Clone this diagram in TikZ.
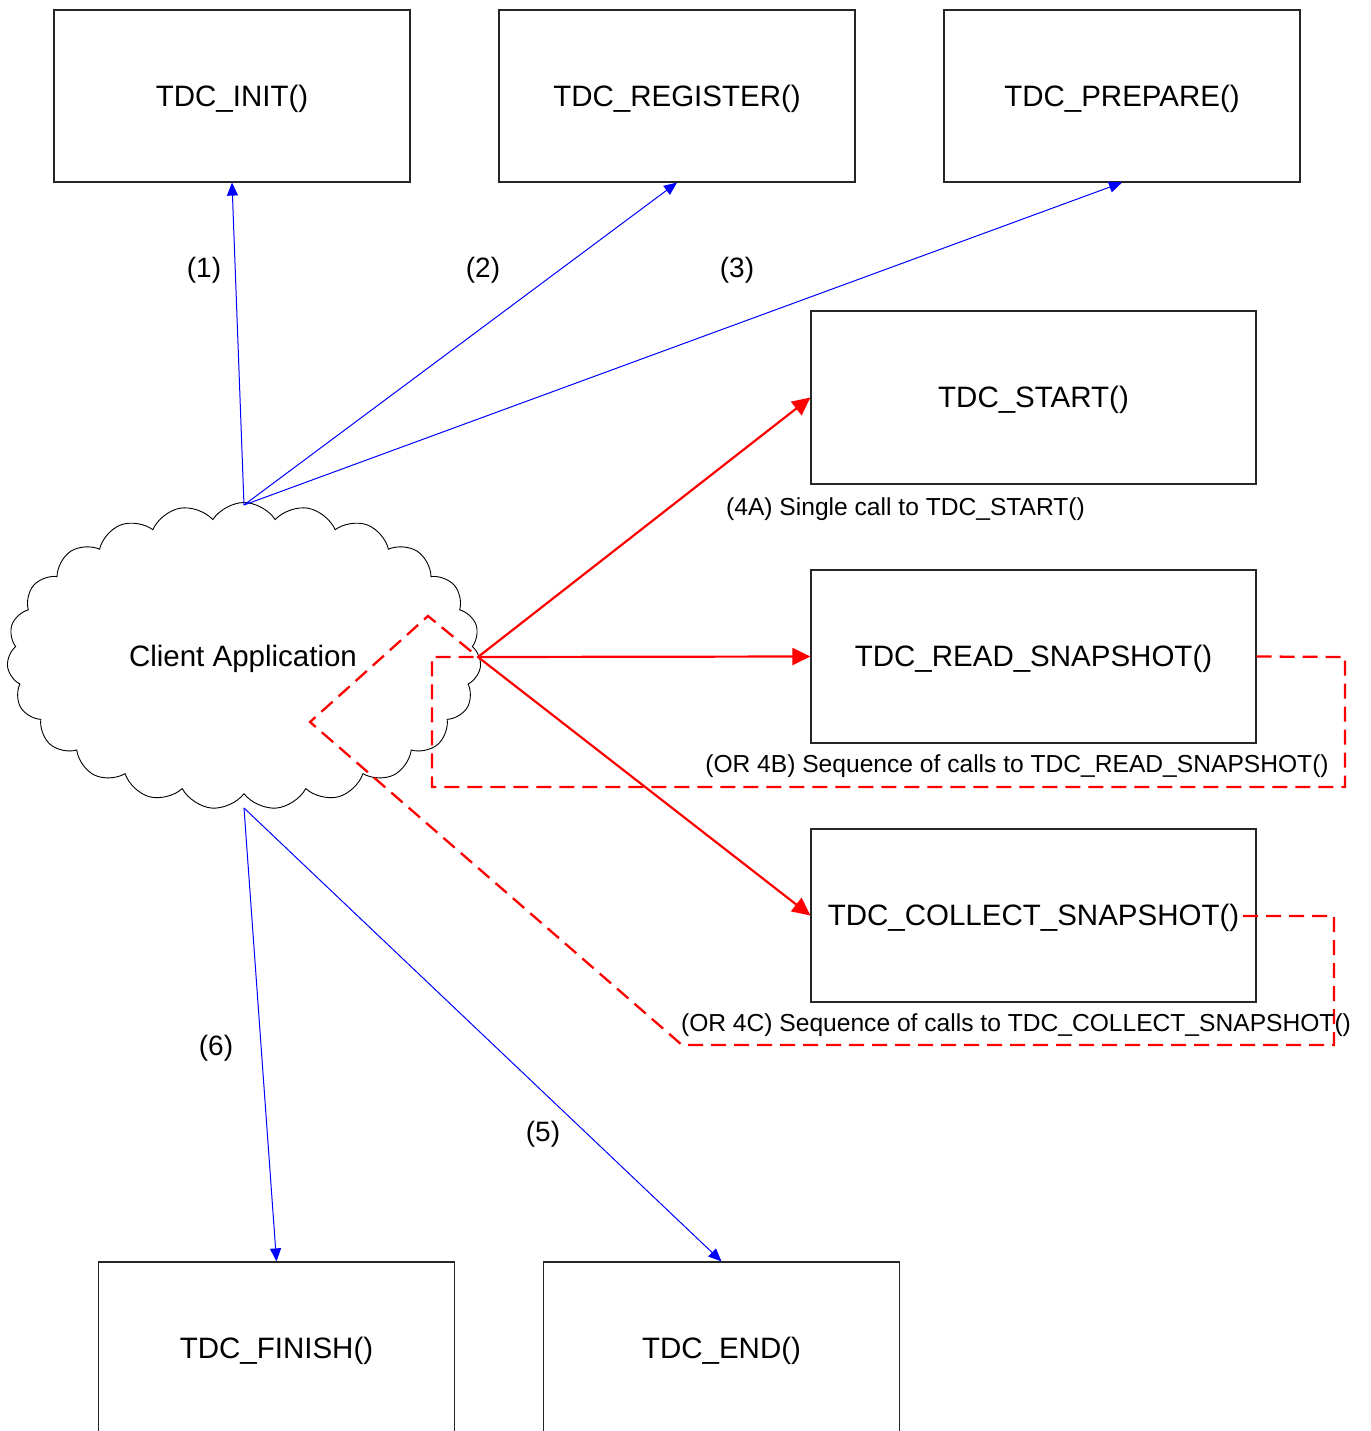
\documentclass[tikz,border=0pt]{standalone}
\usepackage{fontspec}
\setmainfont{Liberation Sans}
\usetikzlibrary{arrows.meta,shapes.symbols}
\tikzset{
  fnbox/.style={draw=black!85, line width=1.2pt, minimum width=356pt, minimum height=172pt, inner sep=0pt, font=\fontsize{29.5}{34}\selectfont, text depth=0pt, text height=0pt},
  widebox/.style={fnbox, minimum width=445pt, minimum height=173pt},
  bluearrow/.style={draw=blue, line width=1pt, -{Triangle[length=13pt,width=11pt]}},
  redarrow/.style={draw=red, line width=2.2pt, -{Triangle[length=18pt,width=17pt]}},
  reddash/.style={draw=red, line width=2.3pt, dash pattern=on 15pt off 8pt},
  numlabel/.style={font=\fontsize{28}{32}\selectfont, inner sep=0pt},
  smalllabel/.style={font=\fontsize{24.6}{28}\selectfont, inner sep=0pt}
}
\begin{document}
\begin{tikzpicture}[x=1pt,y=-1pt]
\clip (0,0) rectangle (1370,1431);
\fill[white] (0,0) rectangle (1370,1431);

% boxes
\node[fnbox] (init) at (232,96) {};
\node[fnbox] (register) at (677,96) {};
\node[fnbox] (prepare) at (1122,96) {};
\node[widebox] (start) at (1033.5,397.5) {};
\node[widebox] (read) at (1033.5,656.5) {};
\node[widebox] (collect) at (1033.5,915.5) {};
\node[fnbox] (finish) at (276.5,1348) {};
\node[fnbox] (end) at (721.5,1348) {};
\tikzset{boxtext/.style={font=\fontsize{29.5}{34}\selectfont, inner sep=0pt, yshift=-2.5pt}}
\node[boxtext] at (init) {TDC\_INIT()};
\node[boxtext] at (register) {TDC\_REGISTER()};
\node[boxtext] at (prepare) {TDC\_PREPARE()};
\node[boxtext] at (start) {TDC\_START()};
\node[boxtext] at (read) {TDC\_READ\_SNAPSHOT()};
\node[boxtext] at (collect) {TDC\_COLLECT\_SNAPSHOT()};
\node[boxtext] at (finish) {TDC\_FINISH()};
\node[boxtext] at (end) {TDC\_END()};

% cloud
\node[cloud, draw=black, line width=0.9pt, cloud puffs=23, cloud puff arc=115, aspect=1.55,
  minimum width=474pt, minimum height=307pt, inner sep=0pt] (client) at (244,656) {};
\node[boxtext] at (243,656) {Client Application};

\coordinate (ctop) at (244,505);
\coordinate (cbot) at (244,808);
\coordinate (hub) at (478,657);

% dashed loops
\coordinate (b1) at (1345,657);
\coordinate (b2) at (1345,787);
\coordinate (b3) at (432,787);
\coordinate (b4) at (432,657);
\draw[reddash] (read.east) -- (b1) -- (b2) -- (b3) -- (b4) -- (hub);
\coordinate (c0) at (1243,916);
\coordinate (c1) at (1334,916);
\coordinate (c2) at (1334,1045);
\coordinate (c3) at (682,1045);
\coordinate (c4) at (310,722);
\coordinate (c5) at (428,616);
\draw[reddash] (c0) -- (c1) -- (c2) -- (c3) -- (c4) -- (c5) -- (hub);

% blue arrows
\draw[bluearrow] (ctop) -- (init.south);
\draw[bluearrow] (ctop) -- (register.south);
\draw[bluearrow] (ctop) -- (prepare.south);
\draw[bluearrow] (cbot) -- (finish.north);
\draw[bluearrow] (cbot) -- (end.north);

% red arrows
\draw[redarrow] (hub) -- (start.west);
\draw[redarrow] (hub) -- (read.west);
\draw[redarrow] (hub) -- (collect.west);

% labels
\node[numlabel, yshift=-2.5pt] (l1) at (204,268) {(1)};
\node[numlabel, yshift=-2.5pt] (l2) at (483,268) {(2)};
\node[numlabel, yshift=-2.5pt] (l3) at (737,268) {(3)};
\node[numlabel, yshift=-2.5pt] (l6) at (216,1046) {(6)};
\node[numlabel, yshift=-2.5pt] (l5) at (543,1132) {(5)};
\node[smalllabel, yshift=-2pt] (l4a) at (905.5,507) {(4A) Single call to TDC\_START()};
\node[smalllabel, yshift=-2pt] (l4b) at (1017,764) {(OR 4B) Sequence of calls to TDC\_READ\_SNAPSHOT()};
\node[smalllabel, yshift=-2pt] (l4c) at (1016,1023) {(OR 4C) Sequence of calls to TDC\_COLLECT\_SNAPSHOT()};
\end{tikzpicture}
\end{document}
